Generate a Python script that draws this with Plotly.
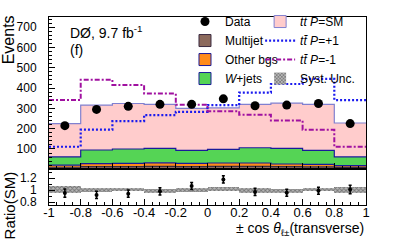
import plotly.graph_objects as go

# ---------------- data ----------------
BIN_EDGES = [-1.0, -0.8, -0.6, -0.4, -0.2, 0.0, 0.2, 0.4, 0.6, 0.8, 1.0]
BIN_CENTERS = [-0.9, -0.7, -0.5, -0.3, -0.1, 0.1, 0.3, 0.5, 0.7, 0.9]

multijet = [10, 13, 13, 14, 13, 14, 14, 13, 12, 9]
other_bgs = [10, 15, 16, 18, 16, 17, 17, 13, 12, 9]
wjets = [41, 67, 71, 71, 64, 67, 75, 77, 69, 43]
ttbar_sm = [164, 221, 224, 217, 207, 204, 214, 223, 227, 167]

ttbar_p_plus = [111, 195, 237, 267, 283, 316, 378, 420, 445, 341]
ttbar_p_minus = [341, 441, 415, 373, 318, 286, 268, 240, 195, 111]

data = [215, 295, 310, 320, 320, 347, 313, 316, 324, 225]

ratio = [0.95, 0.92, 0.94, 0.98, 1.07, 1.18, 0.97, 0.955, 0.99, 1.01]
ratio_err = [0.07, 0.06, 0.06, 0.06, 0.06, 0.06, 0.06, 0.06, 0.06, 0.07]

syst_center = [1.0, 1.0, 1.0, 0.985, 1.0, 1.02, 0.985, 0.98, 1.0, 1.0]
syst_halfwidth = [0.06, 0.035, 0.025, 0.03, 0.03, 0.035, 0.04, 0.03, 0.025, 0.05]

X_TICKS = [-1, -0.8, -0.6, -0.4, -0.2, 0, 0.2, 0.4, 0.6, 0.8, 1]
X_TICKTEXT = ["-1", "-0.8", "-0.6", "-0.4", "-0.2", "0", "0.2", "0.4", "0.6", "0.8", "1"]
Y_TICKS = [100, 200, 300, 400, 500, 600, 700]
R_TICKS = [0.8, 1.0, 1.2]
R_TICKTEXT = ["0.8", "1", "1.2"]

# ---------------- styling ----------------
FONT = "Liberation Sans, Arial, Helvetica, sans-serif"
C_MJ = "#8c6a5c"
C_OTH = "#ff8c1a"
C_W = "#55d455"
C_TT = "#ffcccc"
C_TT_LINE = "#8080d0"
C_EDGE = "#1a1a9a"
C_PLUS = "#1a1aee"
C_MINUS = "#a010a0"


def steps(vals):
    return vals + [vals[-1]]


cum1 = multijet
cum2 = [a + b for a, b in zip(cum1, other_bgs)]
cum3 = [a + b for a, b in zip(cum2, wjets)]
cum4 = [a + b for a, b in zip(cum3, ttbar_sm)]

fig = go.Figure()

# stacked filled step areas (main panel)
fills = [
    (cum1, C_MJ, "#3a2a40", "tozeroy"),
    (cum2, C_OTH, C_EDGE, "tonexty"),
    (cum3, C_W, C_EDGE, "tonexty"),
    (cum4, C_TT, C_TT_LINE, "tonexty"),
]
for vals, fc, lc, fmode in fills:
    fig.add_trace(go.Scatter(
        x=BIN_EDGES, y=steps(vals), mode="lines", line=dict(color=lc, width=1.2, shape="hv"),
        fill=fmode, fillcolor=fc, showlegend=False, hoverinfo="skip", xaxis="x", yaxis="y"))

# alternative hypotheses
fig.add_trace(go.Scatter(
    x=BIN_EDGES, y=steps(ttbar_p_plus), mode="lines",
    line=dict(color=C_PLUS, width=2.2, shape="hv", dash="2px,2px"),
    showlegend=False, xaxis="x", yaxis="y"))
fig.add_trace(go.Scatter(
    x=BIN_EDGES, y=steps(ttbar_p_minus), mode="lines",
    line=dict(color=C_MINUS, width=2, shape="hv", dash="5px,2px,2px,2px"),
    showlegend=False, xaxis="x", yaxis="y"))

# data
fig.add_trace(go.Scatter(
    x=BIN_CENTERS, y=data, mode="markers", marker=dict(color="black", size=9),
    name="Data", legend="legend", xaxis="x", yaxis="y"))

# legend-only entries for stacked components
for name, fc, lc in [("Multijet", C_MJ, "#3a2a40"), ("Other bgs", C_OTH, C_EDGE),
                     ("<i>W</i>+jets", C_W, C_EDGE)]:
    fig.add_trace(go.Bar(x=[None], y=[None], name=name, marker=dict(color=fc, line=dict(color=lc, width=1)),
                         legend="legend", xaxis="x", yaxis="y"))

fig.add_trace(go.Bar(x=[None], y=[None], name="<i>tt̄ P</i>=SM",
                     marker=dict(color=C_TT, line=dict(color=C_TT_LINE, width=1)),
                     legend="legend2", xaxis="x", yaxis="y"))
fig.add_trace(go.Scatter(x=[None], y=[None], mode="lines", name="<i>tt̄ P</i>=+1",
                         line=dict(color=C_PLUS, width=2.2, dash="2px,2px"),
                         legend="legend2", xaxis="x", yaxis="y"))
fig.add_trace(go.Scatter(x=[None], y=[None], mode="lines", name="<i>tt̄ P</i>=-1",
                         line=dict(color=C_MINUS, width=2, dash="5px,2px,2px,2px"),
                         legend="legend2", xaxis="x", yaxis="y"))

# ratio panel: systematic band
fig.add_trace(go.Bar(
    x=BIN_CENTERS, y=[2 * h for h in syst_halfwidth],
    base=[c - h for c, h in zip(syst_center, syst_halfwidth)], width=0.2,
    marker=dict(color="#a8a8a8", line=dict(width=0),
                pattern=dict(shape="x", size=3, solidity=0.5, fgcolor="#303030", bgcolor="#b8b8b8")),
    name="Syst. Unc.", legend="legend2", xaxis="x2", yaxis="y2"))

fig.add_trace(go.Scatter(
    x=BIN_CENTERS, y=ratio, mode="markers", marker=dict(color="black", size=4),
    error_y=dict(type="data", array=ratio_err, color="black", thickness=1.5, width=1.5),
    showlegend=False, xaxis="x2", yaxis="y2"))

axis_common = dict(showline=True, linecolor="black", linewidth=1, mirror=True, showgrid=False,
                   zeroline=False, ticks="inside", tickcolor="black", automargin=False)
XFONT = dict(family=FONT, size=13, color="black")
YFONT = dict(family=FONT, size=12, color="black")

fig.update_layout(
    width=407, height=242,
    margin=dict(l=49, r=41, t=17, b=37, autoexpand=False),
    paper_bgcolor="white", plot_bgcolor="white",
    barmode="overlay", bargap=0,
    font=dict(family=FONT, size=12, color="black"),
    xaxis=dict(domain=[0, 1], range=[-1, 1], anchor="y", tickvals=X_TICKS, showticklabels=False,
               ticklen=6, minor=dict(dtick=0.05, ticklen=3, ticks="inside", tickcolor="black"),
               tickfont=XFONT, **axis_common),
    yaxis=dict(domain=[0.19, 1], range=[0, 750], anchor="x", tickvals=Y_TICKS, ticklen=6,
               ticklabelstandoff=9, tickfont=YFONT,
               minor=dict(dtick=20, ticklen=3, ticks="inside", tickcolor="black"), **axis_common),
    xaxis2=dict(domain=[0, 1], range=[-1, 1], anchor="y2", matches="x", tickvals=X_TICKS,
                ticktext=X_TICKTEXT, ticklen=6, ticklabelstandoff=-5, tickfont=XFONT,
                minor=dict(dtick=0.05, ticklen=3, ticks="inside", tickcolor="black"), **axis_common),
    yaxis2=dict(domain=[0, 0.19], range=[0.75, 1.35], anchor="x2", tickvals=R_TICKS,
                ticktext=R_TICKTEXT, ticklen=6, ticklabelstandoff=9, tickfont=YFONT,
                minor=dict(dtick=0.1, ticklen=3, ticks="inside", tickcolor="black"), **axis_common),
    legend=dict(x=0.429, y=1.053, xanchor="left", yanchor="top", bgcolor="rgba(0,0,0,0)",
                traceorder="normal", font=dict(family=FONT, size=12), tracegroupgap=0),
    legend2=dict(x=0.666, y=1.053, xanchor="left", yanchor="top", bgcolor="rgba(0,0,0,0)",
                 traceorder="normal", font=dict(family=FONT, size=12), tracegroupgap=0),
    annotations=[
        dict(text="DØ, 9.7 fb<sup>-1</sup>", xref="paper", yref="paper", x=0.06, y=0.92,
             xanchor="left", yanchor="middle", showarrow=False, font=dict(family=FONT, size=14)),
        dict(text="(f)", xref="paper", yref="paper", x=0.06, y=0.825,
             xanchor="left", yanchor="middle", showarrow=False, font=dict(family=FONT, size=14)),
        dict(text="Events", xref="paper", yref="paper", x=-0.125, y=0.878, textangle=-90,
             xanchor="center", yanchor="middle", showarrow=False, font=dict(family=FONT, size=16)),
        dict(text="Ratio(SM)", xref="paper", yref="paper", x=-0.125, y=0.0, textangle=-90,
             xanchor="center", yanchor="middle", showarrow=False, font=dict(family=FONT, size=15)),
        dict(text="± cos <i>θ</i><sub>ℓ±</sub>(transverse)", xref="paper", yref="paper", x=1.0,
             y=-0.125, xanchor="right", yanchor="middle", showarrow=False,
             font=dict(family=FONT, size=14)),
    ],
)

# remove the browser's default 8px body margin so the figure fills the window exactly
fig.write_html("out.html", config={"displayModeBar": False},
               post_script="document.body.style.margin='0px';")
